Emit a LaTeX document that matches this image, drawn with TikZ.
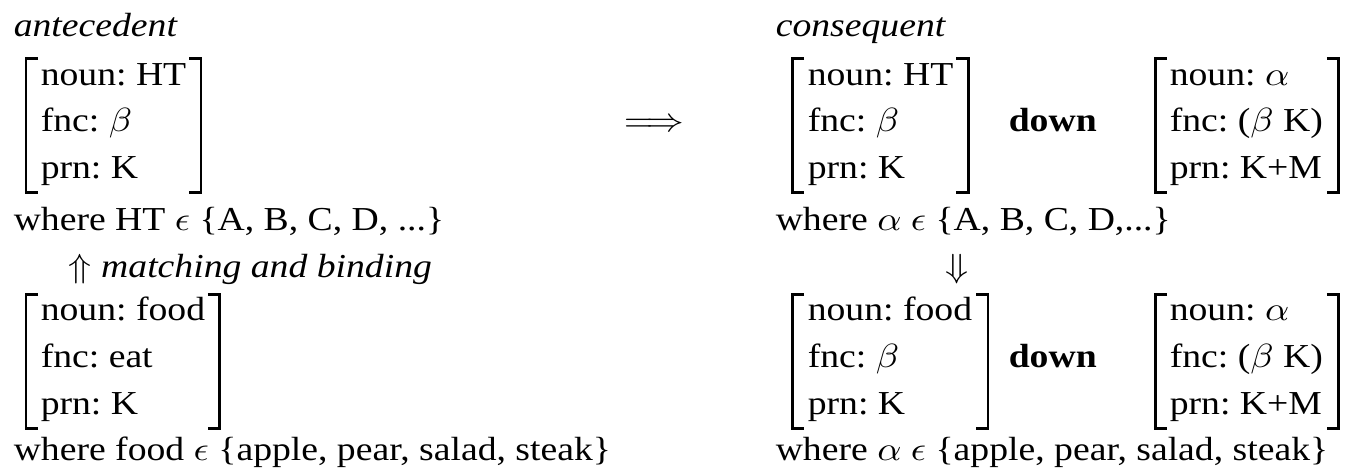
\documentclass[tikz,border=0pt]{standalone}
\usepackage{fontspec}
\setmainfont{Liberation Serif}
\usetikzlibrary{calc}
\renewcommand{\arraystretch}{1.157}
\frenchspacing

\begin{document}
\begin{tikzpicture}[x=0.26533pt, y=-0.2985pt, xscale=1.125, transform shape,
    txt/.style={anchor=base west, inner sep=0pt},
    avm/.style={anchor=base west, inner sep=0pt},
    brk/.style={line width=0.85pt}]
    \useasboundingbox (0,0) rectangle (1350,473);

    % ---- Antecedente (izquierda) ----
    \node[txt] (ante) at (13,36) {\textit{antecedent}};
    \node[avm] (antebox) at (40,85) {\begin{tabular}[t]{@{}l@{}}
        noun: HT\\ fnc: $\beta$\\ prn: K\end{tabular}};
    \node[txt] (antewhere) at (13,230) {where HT $\epsilon$ \{A, B, C, D, ...\}};

    % matching and binding
    \node[txt] (match) at (68,278) {$\Uparrow$ \textit{matching and binding}};

    % Entrada
    \node[avm] (inbox) at (40,321) {\begin{tabular}[t]{@{}l@{}}
        noun: food\\ fnc: eat\\ prn: K\end{tabular}};
    \node[txt] (inwhere) at (13,461) {where food $\epsilon$ \{apple, pear, salad, steak\}};

    % ---- Implicacion ----
    \node[txt] (impl) at (623,131.5) {$\Longrightarrow$};

    % ---- Consecuente (derecha) ----
    \node[txt] (cons) at (775,36) {\textit{consequent}};
    \node[avm] (consbox) at (807,85) {\begin{tabular}[t]{@{}l@{}}
        noun: HT\\ fnc: $\beta$\\ prn: K\end{tabular}};
    \node[txt] (consdown) at (1008,131.5) {\textbf{down}};
    \node[avm] (consnew) at (1169,85) {\begin{tabular}[t]{@{}l@{}}
        noun: $\alpha$\\ fnc: ($\beta$ K)\\ prn: K+M\end{tabular}};
    \node[txt] (conswhere) at (775,230) {where $\alpha$ $\epsilon$ \{A, B, C, D,...\}};

    % Flecha hacia abajo
    \node[anchor=base, inner sep=0pt] (dnarrow) at (957,277) {$\Downarrow$};

    % Salida
    \node[avm] (outbox) at (807,321) {\begin{tabular}[t]{@{}l@{}}
        noun: food\\ fnc: $\beta$\\ prn: K\end{tabular}};
    \node[txt] (outdown) at (1008,367.5) {\textbf{down}};
    \node[avm] (outnew) at (1169,321) {\begin{tabular}[t]{@{}l@{}}
        noun: $\alpha$\\ fnc: ($\beta$ K)\\ prn: K+M\end{tabular}};
    \node[txt] (outwhere) at (775,461) {where $\alpha$ $\epsilon$ \{apple, pear, salad, steak\}};

    % ---- Corchetes ----
    \draw[brk] ($(antebox.north west)+(-2,6.5)$) -| ($(antebox.south west)+(-14,0)$) -- ++(12,0);
    \draw[brk] ($(antebox.north east)+(2,6.5)$) -| ($(antebox.south east)+(14,0)$) -- ++(-12,0);
    \draw[brk] ($(inbox.north west)+(-2,6.5)$) -| ($(inbox.south west)+(-14,0)$) -- ++(12,0);
    \draw[brk] ($(inbox.north east)+(2,6.5)$) -| ($(inbox.south east)+(14,0)$) -- ++(-12,0);
    \draw[brk] ($(consbox.north west)+(-3,6.5)$) -| ($(consbox.south west)+(-15,0)$) -- ++(12,0);
    \draw[brk] ($(consbox.north east)+(2,6.5)$) -| ($(consbox.south east)+(14,0)$) -- ++(-12,0);
    \draw[brk] ($(consnew.north west)+(-2,6.5)$) -| ($(consnew.south west)+(-14,0)$) -- ++(12,0);
    \draw[brk] ($(consnew.north east)+(3,6.5)$) -| ($(consnew.south east)+(15,0)$) -- ++(-12,0);
    \draw[brk] ($(outbox.north west)+(-3,6.5)$) -| ($(outbox.south west)+(-15,0)$) -- ++(12,0);
    \draw[brk] ($(outbox.north east)+(3,6.5)$) -| ($(outbox.south east)+(15,0)$) -- ++(-12,0);
    \draw[brk] ($(outnew.north west)+(-2,6.5)$) -| ($(outnew.south west)+(-14,0)$) -- ++(12,0);
    \draw[brk] ($(outnew.north east)+(3,6.5)$) -| ($(outnew.south east)+(15,0)$) -- ++(-12,0);
\end{tikzpicture}
\end{document}
